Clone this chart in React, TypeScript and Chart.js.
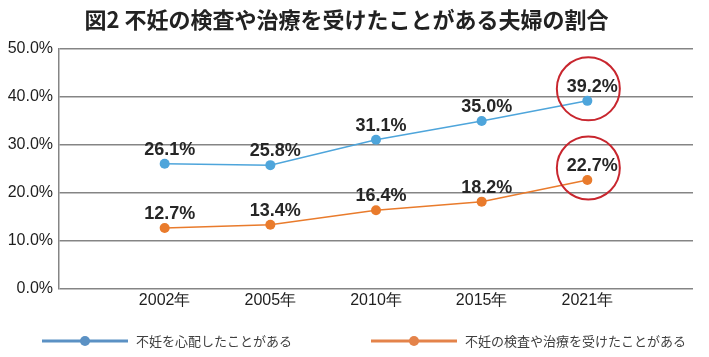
import React, { useEffect, useRef } from "react";
import { Chart, registerables } from "chart.js";

Chart.register(...registerables);

const title = "図2 不妊の検査や治療を受けたことがある夫婦の割合";
const categories = ["2002年", "2005年", "2010年", "2015年", "2021年"];
const worriedLabel = "不妊を心配したことがある";
const worriedValues = [26.1, 25.8, 31.1, 35.0, 39.2];
const treatedLabel = "不妊の検査や治療を受けたことがある";
const treatedValues = [12.7, 13.4, 16.4, 18.2, 22.7];
const yTicks = [0, 10, 20, 30, 40, 50];

const BLUE = "#4ea5db";
const ORANGE = "#e97b2c";
const LEGEND_BLUE = "#5b91c4";
const LEGEND_ORANGE = "#e4834a";
const GRID = "#858585";
const TEXT = "#1e1e1e";

const labelsPlugin = {
  id: "valueLabels",
  afterDatasetsDraw(chart: any) {
    const ctx = chart.ctx;
    ctx.save();
    ctx.font = 'bold 18px "Liberation Sans", Arial, sans-serif';
    ctx.fillStyle = "#262626";
    ctx.textAlign = "center";
    ctx.textBaseline = "alphabetic";
    chart.data.datasets.forEach((ds: any, di: number) => {
      const meta = chart.getDatasetMeta(di);
      meta.data.forEach((pt: any, i: number) => {
        const v = ds.data[i].y;
        ctx.fillText(v.toFixed(1) + "%", pt.x + 5, pt.y - 9);
      });
      const last = meta.data[meta.data.length - 1];
      ctx.beginPath();
      ctx.strokeStyle = "#c8262e";
      ctx.lineWidth = 2;
      ctx.arc(last.x + 1, last.y - 12, 31.5, 0, Math.PI * 2);
      ctx.stroke();
    });
    ctx.restore();
  },
};

const legendPlugin = {
  id: "customLegend",
  afterDraw(chart: any) {
    const ctx = chart.ctx;
    const items = [
      { label: worriedLabel, color: LEGEND_BLUE, x: 42 },
      { label: treatedLabel, color: LEGEND_ORANGE, x: 371 },
    ];
    const y = 341;
    ctx.save();
    items.forEach((it) => {
      ctx.strokeStyle = it.color;
      ctx.lineWidth = 3;
      ctx.beginPath();
      ctx.moveTo(it.x, y);
      ctx.lineTo(it.x + 86, y);
      ctx.stroke();
      ctx.fillStyle = it.color;
      ctx.beginPath();
      ctx.arc(it.x + 43, y, 5, 0, Math.PI * 2);
      ctx.fill();
      ctx.fillStyle = "#404040";
      ctx.font = '13px "Noto Sans CJK JP", sans-serif';
      ctx.textAlign = "left";
      ctx.textBaseline = "middle";
      ctx.fillText(it.label, it.x + 94, y);
    });
    ctx.restore();
  },
};

export default function App() {
  const ref = useRef<HTMLCanvasElement | null>(null);
  useEffect(() => {
    if (!ref.current) return;
    const chart = new Chart(ref.current, {
      type: "line",
      data: {
        datasets: [
          {
            label: worriedLabel,
            data: worriedValues.map((v, i) => ({ x: i, y: v })),
            borderColor: BLUE,
            backgroundColor: BLUE,
            pointBackgroundColor: BLUE,
            pointBorderWidth: 0,
            pointRadius: 5,
            borderWidth: 1.5,
          },
          {
            label: treatedLabel,
            data: treatedValues.map((v, i) => ({ x: i, y: v })),
            borderColor: ORANGE,
            backgroundColor: ORANGE,
            pointBackgroundColor: ORANGE,
            pointBorderWidth: 0,
            pointRadius: 5,
            borderWidth: 1.5,
          },
        ],
      },
      options: {
        animation: false,
        responsive: true,
        maintainAspectRatio: false,
        layout: { padding: { left: 0, right: 16, top: 0, bottom: 38 } },
        plugins: {
          legend: { display: false },
          tooltip: { enabled: false },
          title: {
            display: true,
            text: title,
            color: "#222",
            font: { family: '"Noto Sans CJK JP", sans-serif', size: 22, weight: "bold", lineHeight: 1.2 },
            padding: { top: 6, bottom: 16.6 },
          },
        },
        scales: {
          x: {
            type: "linear",
            min: -1,
            max: 5,
            afterBuildTicks: (scale: any) => {
              scale.ticks = categories.map((_, i) => ({ value: i }));
            },
            afterFit: (scale: any) => {
              scale.height = 30;
            },
            grid: { display: false, drawTicks: false },
            border: { display: false },
            ticks: {
              padding: 2,
              color: TEXT,
              font: { family: '"Liberation Sans", Arial, sans-serif', size: 16 },
              callback: (v: any) => categories[v] ?? "",
              maxRotation: 0,
              autoSkip: false,
            },
          },
          y: {
            min: 0,
            max: 50,
            afterBuildTicks: (scale: any) => {
              scale.ticks = yTicks.map((v) => ({ value: v }));
            },
            afterFit: (scale: any) => {
              scale.width = 59;
            },
            grid: { color: GRID, lineWidth: 1.5, drawTicks: false },
            border: { display: true, color: GRID, width: 1.5 },
            ticks: {
              padding: 6,
              color: TEXT,
              font: { family: '"Liberation Sans", Arial, sans-serif', size: 16 },
              callback: (v: any) => Number(v).toFixed(1) + "%",
            },
          },
        },
      },
      plugins: [labelsPlugin, legendPlugin],
    });
    return () => chart.destroy();
  }, []);
  return (
    <div style={{ position: "fixed", left: 0, top: 0, width: 709, height: 357, background: "#fff" }}>
      <canvas ref={ref} />
    </div>
  );
}
